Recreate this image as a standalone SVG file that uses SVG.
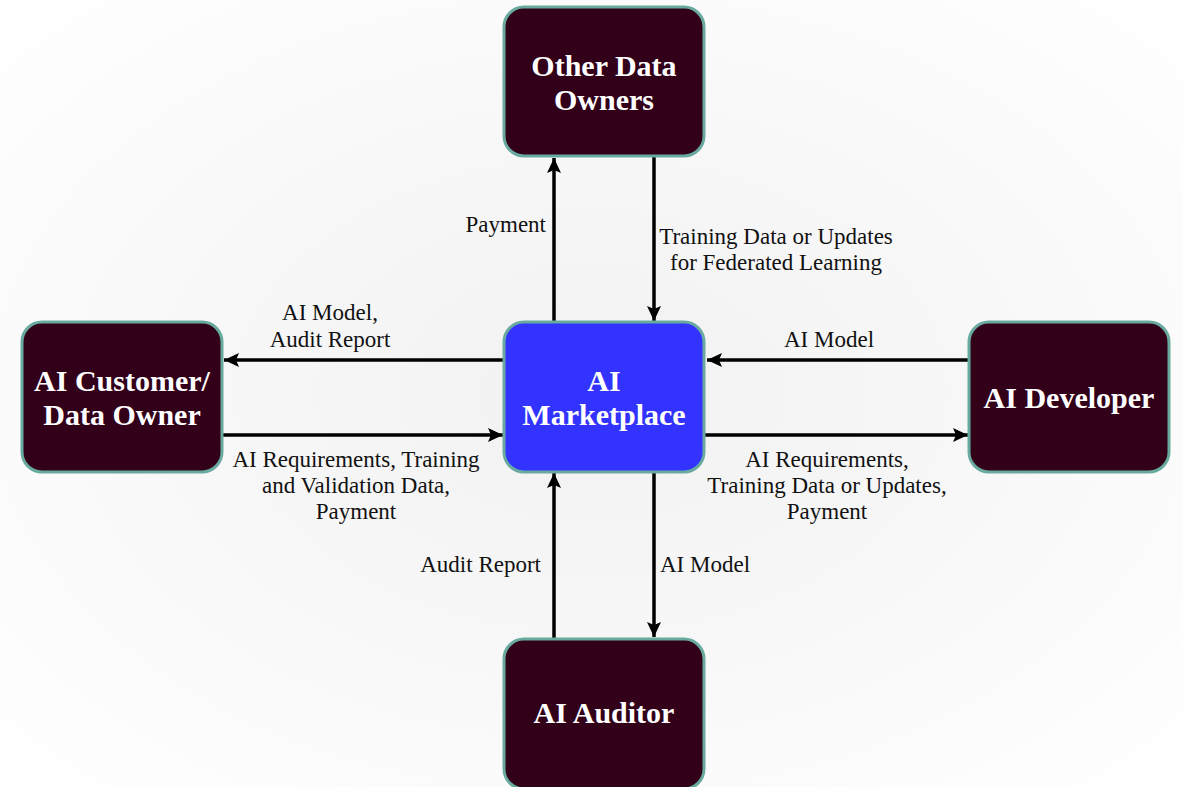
<svg xmlns="http://www.w3.org/2000/svg" width="1183" height="787" viewBox="0 0 1183 787">
  <defs>
    <radialGradient id="bg" cx="50%" cy="50%" r="70%">
      <stop offset="0" stop-color="#f1f1f1"/>
      <stop offset="1" stop-color="#ffffff"/>
    </radialGradient>
    <marker id="arrow" markerUnits="userSpaceOnUse" markerWidth="16" markerHeight="16" viewBox="0 0 16 16" refX="15" refY="8" orient="auto">
      <path d="M0,1 L15,8 L0,15 L3,8 Z" fill="#000"/>
    </marker>
    <style>
      .node { fill: #33001a; stroke: #69aaa0; stroke-width: 3; }
      .hub { fill: #3333ff; stroke: #69aaa0; stroke-width: 3; }
      .title { font-family: "Liberation Serif", "Times New Roman", serif; font-weight: bold; font-size: 30px; fill: #ffffff; text-anchor: middle; }
      .edge { stroke: #000; stroke-width: 3.5; fill: none; marker-end: url(#arrow); }
      .lbl { font-family: "Liberation Serif", "Times New Roman", serif; font-size: 23px; fill: #111; }
      .mid { text-anchor: middle; }
      .end { text-anchor: end; }
    </style>
  </defs>

  <rect width="1183" height="787" fill="url(#bg)"/>

  <!-- connectors -->
  <g id="connectors">
    <line class="edge" x1="554" y1="322" x2="554" y2="158"/>
    <line class="edge" x1="654" y1="157" x2="654" y2="321"/>
    <line class="edge" x1="504" y1="360" x2="224" y2="360"/>
    <line class="edge" x1="222" y1="435" x2="503" y2="435"/>
    <line class="edge" x1="969" y1="360" x2="707" y2="360"/>
    <line class="edge" x1="705" y1="435" x2="968" y2="435"/>
    <line class="edge" x1="554" y1="639" x2="554" y2="473"/>
    <line class="edge" x1="654" y1="472" x2="654" y2="637"/>

    <text class="lbl end" x="546" y="232">Payment</text>
    <text class="lbl mid" x="776" y="244">Training Data or Updates</text>
    <text class="lbl mid" x="776" y="270">for Federated Learning</text>

    <text class="lbl mid" x="330" y="320">AI Model,</text>
    <text class="lbl mid" x="330" y="347">Audit Report</text>

    <text class="lbl mid" x="356" y="467">AI Requirements, Training</text>
    <text class="lbl mid" x="356" y="493">and Validation Data,</text>
    <text class="lbl mid" x="356" y="519">Payment</text>

    <text class="lbl mid" x="829" y="347">AI Model</text>

    <text class="lbl mid" x="827" y="467">AI Requirements,</text>
    <text class="lbl mid" x="827" y="493">Training Data or Updates,</text>
    <text class="lbl mid" x="827" y="519">Payment</text>

    <text class="lbl end" x="541" y="572">Audit Report</text>
    <text class="lbl" x="660" y="572">AI Model</text>
  </g>

  <!-- nodes -->
  <g id="other-data-owners">
    <rect class="node" x="504" y="7" width="200" height="149" rx="20"/>
    <text class="title" x="604" y="76">Other Data</text>
    <text class="title" x="604" y="110">Owners</text>
  </g>

  <g id="ai-marketplace">
    <rect class="hub" x="504" y="322" width="200" height="150" rx="20"/>
    <text class="title" x="604" y="391">AI</text>
    <text class="title" x="604" y="425">Marketplace</text>
  </g>

  <g id="ai-customer">
    <rect class="node" x="22" y="322" width="200" height="150" rx="20"/>
    <text class="title" x="122" y="391">AI Customer/</text>
    <text class="title" x="122" y="425">Data Owner</text>
  </g>

  <g id="ai-developer">
    <rect class="node" x="969" y="322" width="200" height="150" rx="20"/>
    <text class="title" x="1069" y="408">AI Developer</text>
  </g>

  <g id="ai-auditor">
    <rect class="node" x="504" y="639" width="200" height="150" rx="20"/>
    <text class="title" x="604" y="723">AI Auditor</text>
  </g>
</svg>
